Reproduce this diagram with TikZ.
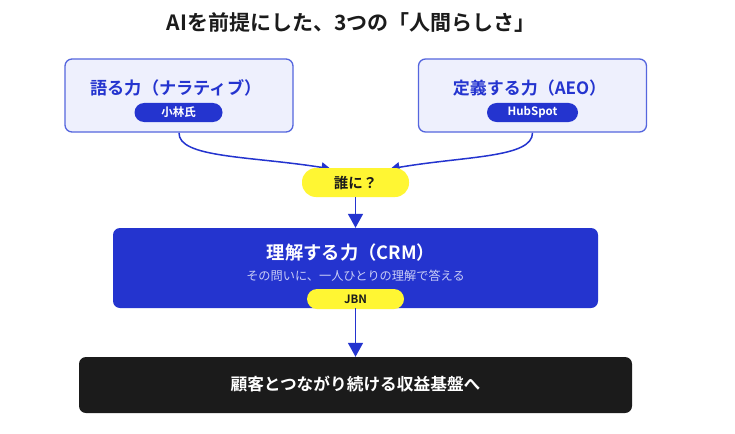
\documentclass[tikz,border=0pt]{standalone}
\usepackage{fontspec}
\setmainfont{Noto Sans CJK JP}[BoldFont={Noto Sans CJK JP Bold}]
\usetikzlibrary{arrows.meta,backgrounds}
\definecolor{mblue}{HTML}{2434CF}
\definecolor{bordblue}{HTML}{5566DE}
\definecolor{lightfill}{HTML}{EEF0FD}
\definecolor{myellow}{HTML}{FFF633}
\definecolor{mdark}{HTML}{1B1B1B}
\definecolor{subtxt}{HTML}{C9CDF6}
\tikzset{
  topbox/.style={draw=bordblue, line width=1.3pt, fill=lightfill, rounded corners=7pt, minimum width=228pt, minimum height=73pt},
  bluepill/.style={fill=mblue, rounded corners=9.5pt, minimum width=88pt, minimum height=19pt, inner sep=0pt, text=white, font=\fontsize{11.5}{11.5}\selectfont\bfseries},
  yellowpill/.style={fill=myellow, rounded corners=10pt, inner sep=0pt, text=mdark, font=\fontsize{11.5}{11.5}\selectfont\bfseries},
  conn/.style={draw=mblue, line width=1.5pt},
  bigarrow/.style={conn, -{Triangle[length=14pt,width=15pt]}},
  smallarrow/.style={conn, -{Triangle[length=9pt,width=10pt]}},
}
\begin{document}
\begin{tikzpicture}[x=1pt,y=-1pt]
\useasboundingbox (0,0) rectangle (735,433);
% title
\node[font=\fontsize{21}{21}\selectfont\bfseries, text=mdark] (title) at (351,23) {AIを前提にした、3つの「人間らしさ」};
% top boxes
\node[topbox] (L) at (179,95.5) {};
\node[font=\fontsize{17.2}{17.2}\selectfont\bfseries, text=mblue] (Lt) at (176,88) {語る力（ナラティブ）};
\node[bluepill] (Lp) at (178.5,112.5) {小林氏};
\node[topbox] (R) at (532.5,95.5) {};
\node[font=\fontsize{17}{17}\selectfont\bfseries, text=mblue] (Rt) at (529.5,88) {定義する力（AEO）};
\node[bluepill, minimum width=91pt] (Rp) at (532.5,112.5) {HubSpot};
% question pill
\node[yellowpill, minimum width=107pt, minimum height=29pt, rounded corners=14pt, font=\fontsize{14.5}{14.5}\selectfont\bfseries] (Q) at (355.5,182.5) {誰に？};
% CRM box
\node[fill=mblue, rounded corners=7pt, minimum width=485pt, minimum height=80pt] (C) at (355.5,268) {};
\node[font=\fontsize{18.3}{18.3}\selectfont\bfseries, text=white] (Ct) at (351,253) {理解する力（CRM）};
\node[font=\fontsize{12.2}{12.2}\selectfont, text=subtxt] (Cs) at (355.5,276) {その問いに、一人ひとりの理解で答える};
\node[yellowpill, minimum width=97pt, minimum height=20pt] (J) at (355.5,299) {JBN};
% bottom box
\node[fill=mdark, rounded corners=7pt, minimum width=553pt, minimum height=56pt] (B) at (355.5,385) {};
\node[text=white, font=\fontsize{16.7}{16.7}\selectfont\bfseries] (Bt) at (355.5,384) {顧客とつながり続ける収益基盤へ};
% connectors
\coordinate (qa) at ([xshift=-25pt,yshift=-1pt]Q.north);
\coordinate (qb) at ([xshift=35pt,yshift=-1pt]Q.north);
\begin{scope}[on background layer]
\fill[white] (0,0) rectangle (735,433);
\draw[smallarrow] (L.south) .. controls (178,158) and (250,156) .. (qa);
\draw[smallarrow] (R.south) .. controls (533,158) and (465,156) .. (qb);
\end{scope}
\draw[bigarrow] (Q.south) -- (C.north);
\draw[bigarrow] (J.south |- C.south) -- (B.north);
\end{tikzpicture}
\end{document}
